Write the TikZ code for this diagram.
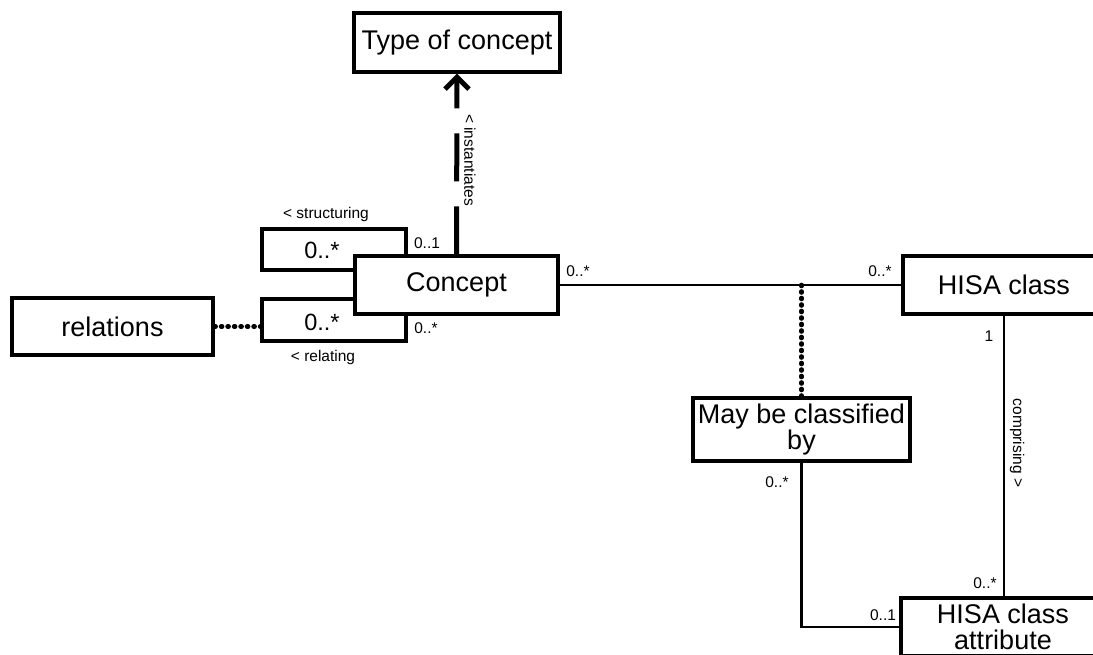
\documentclass[tikz,border=0pt]{standalone}
\usepackage{fontspec}
\setmainfont{Liberation Sans}
\usetikzlibrary{arrows.meta}
\begin{document}
\begin{tikzpicture}[x=1pt,y=-1pt,
 box/.style={draw, line width=3.2pt, fill=white, inner sep=0pt, font=\fontsize{27}{26}\selectfont, align=center},
 loopbox/.style={draw, line width=3.2pt, inner sep=0pt},
 conn/.style={line width=2.8pt},
 dotline/.style={line width=4.6pt, line cap=round, dash pattern=on 1pt off 5.5pt},
 small/.style={font=\fontsize{15.5}{16}\selectfont, inner sep=0pt},
 mid/.style={font=\fontsize{23.5}{24}\selectfont, inner sep=0pt}]
\useasboundingbox (0,0) rectangle (1093,654);
\clip (0,0) rectangle (1093,654);

% self-association loops (behind Concept)
\node[loopbox, minimum width=144pt, minimum height=41pt] (sl) at (334,249.5) {};
\node[loopbox, minimum width=144pt, minimum height=42pt] (rl) at (334,320) {};
\node[mid] (slm) at (322,250) {0..*};
\node[mid] (rlm) at (322,322) {0..*};

% boxes
\node[box, minimum width=206pt, minimum height=59pt] (type) at (457,42.5) {Type of concept};
\node[box, minimum width=203pt, minimum height=58pt] (concept) at (456.5,285) {Concept};
\node[box, minimum width=201pt, minimum height=57pt] (relations) at (112.5,326.5) {relations};
\node[box, minimum width=202pt, minimum height=58pt] (hisa) at (1004,285) {HISA class};
\node[box, minimum width=217pt, minimum height=63pt] (maybe) at (801.5,429.5) {May be classified\\by};
\node[box, minimum width=204pt, minimum height=58pt] (attr) at (1003,627) {HISA class\\attribute};

% connectors
\draw[conn] (concept.east) -- (hisa.west);
\coordinate (j) at (maybe.north |- concept.east);
\draw[dotline] (j) -- (maybe.north);
\draw[conn] (hisa.south) -- (hisa.south |- attr.north);
\draw[conn] (maybe.south) |- (attr.west);
\draw[dotline] (relations.east) -- (relations.east -| rl.west);
\draw[line width=5pt, dash pattern=on 48pt off 25pt, -{Straight Barb[length=12pt,width=24pt]}] (concept.north) -- (type.south);

% labels
\node[small] (l1) at (326,214) {< structuring};
\node[small] (l2) at (323,357) {< relating};
\node[small] (l3) at (427,243) {0..1};
\node[small] (l4) at (426,328) {0..*};
\node[small] (l5) at (578,271) {0..*};
\node[small] (l6) at (880,271) {0..*};
\node[small] (l7) at (989,336) {1};
\node[small, rotate=-90] (l8) at (1017,443) {comprising >};
\node[small] (l9) at (985,583) {0..*};
\node[small] (l10) at (777,482) {0..*};
\node[small] (l11) at (883,615) {0..1};
\node[small, rotate=-90] (l12) at (470,160) {< instantiates};
\end{tikzpicture}
\end{document}
